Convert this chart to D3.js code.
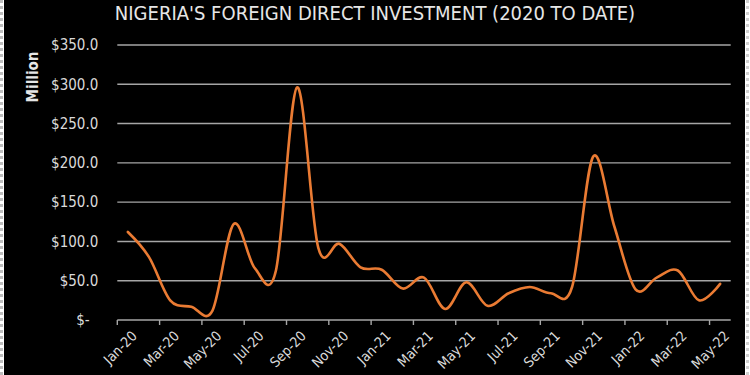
<!DOCTYPE html>
<html>
<head>
<meta charset="utf-8">
<script src="https://cdnjs.cloudflare.com/ajax/libs/d3/7.8.5/d3.min.js"></script>
<style>
  html, body { margin: 0; padding: 0; background: #fff; }
  svg { display: block; }
</style>
</head>
<body>
<svg id="chart" width="750" height="375"></svg>
<script>
var width = 750, height = 375

// months shown on the category axis (Jan-20 .. May-22)
var months = ["Jan-20","Feb-20","Mar-20","Apr-20","May-20","Jun-20","Jul-20","Aug-20","Sep-20","Oct-20","Nov-20","Dec-20",
  "Jan-21","Feb-21","Mar-21","Apr-21","May-21","Jun-21","Jul-21","Aug-21","Sep-21","Oct-21","Nov-21","Dec-21",
  "Jan-22","Feb-22","Mar-22","Apr-22","May-22"]

// FDI, $ million
var fdi = [112, 80, 25, 17, 12, 122, 66, 63, 296, 92, 97, 67,
  64, 40, 54, 14, 48, 18, 34, 42, 34, 42, 208, 119,
  39, 54, 63, 25, 46]

var yTicks = [0, 50, 100, 150, 200, 250, 300, 350]

var title = "NIGERIA'S FOREIGN DIRECT INVESTMENT (2020 TO DATE)"
var yTitle = "Million"

var margin = {left: 117.3, right: 19.3, top: 45, bottom: 55}
var font = '"DejaVu Sans Condensed", "Liberation Sans Narrow", sans-serif'

var svg = d3.select('#chart')

// page frame: dotted edges and black chart area
svg.append('rect').attr('x', 0).attr('y', 0).attr('width', width).attr('height', height).attr('fill', '#fff')
svg.append('line').attr('x1', 1.5).attr('x2', 1.5).attr('y1', 0).attr('y2', height)
  .attr('stroke', '#bdbdbd').attr('stroke-width', 3).attr('stroke-dasharray', '3,3')
svg.append('line').attr('x1', 747.5).attr('x2', 747.5).attr('y1', 0).attr('y2', height)
  .attr('stroke', '#d0d0d0').attr('stroke-width', 3).attr('stroke-dasharray', '3,3')
svg.append('rect').attr('x', 4).attr('y', 0).attr('width', 741).attr('height', height).attr('fill', '#000')

var x = d3.scaleBand()
  .domain(months)
  .range([margin.left, width - margin.right])
  .paddingInner(0).paddingOuter(0)

var y = d3.scaleLinear()
  .domain([0, 350])
  .range([height - margin.bottom, margin.top])

// gridlines
svg.append('g')
  .selectAll('line')
  .data(yTicks.filter(d => d > 0))
  .enter().append('line')
  .attr('x1', x.range()[0])
  .attr('x2', x.range()[1])
  .attr('y1', d => y(d))
  .attr('y2', d => y(d))
  .attr('stroke', '#a6a6a6')
  .attr('stroke-width', 1.4)

// y labels
var yAxis = d3.axisLeft(y)
  .tickValues(yTicks)
  .tickSize(0)
  .tickPadding(19)
  .tickFormat(d => d === 0 ? '$-\u00a0\u00a0' : '$' + d.toFixed(1))

var gy = svg.append('g')
  .attr('transform', 'translate(' + margin.left + ',0)')
  .call(yAxis)
gy.select('.domain').remove()
gy.selectAll('text')
  .attr('fill', '#d9d9d9')
  .style('font-family', font)
  .style('font-size', '15px')

// x axis: ticks on category boundaries every 2 months, labels at the category centre
var baseY = y(0)
svg.append('line')
  .attr('x1', x.range()[0]).attr('x2', x.range()[1])
  .attr('y1', baseY).attr('y2', baseY)
  .attr('stroke', '#a6a6a6').attr('stroke-width', 1.4)

var shown = months.filter((m, i) => i % 2 === 0)

svg.append('g')
  .selectAll('line')
  .data(shown)
  .enter().append('line')
  .attr('x1', d => x(d)).attr('x2', d => x(d))
  .attr('y1', baseY).attr('y2', baseY + 5)
  .attr('stroke', '#a6a6a6').attr('stroke-width', 1.4)

svg.append('g')
  .selectAll('text')
  .data(shown)
  .enter().append('text')
  .text(d => d)
  .attr('transform', d => 'translate(' + (x(d) + x.bandwidth() / 2 + 3) + ',' + (baseY + 10) + ') rotate(-45)')
  .attr('text-anchor', 'end')
  .attr('dy', '0.7em')
  .attr('fill', '#d9d9d9')
  .style('font-family', font)
  .style('font-size', '14px')

// the series (Excel-style smoothed line)
var line = d3.line()
  .x((d, i) => x(months[i]) + x.bandwidth() / 2)
  .y(d => y(d))
  .curve(d3.curveCardinal.tension(0))

svg.append('path')
  .datum(fdi)
  .attr('d', line)
  .attr('fill', 'none')
  .attr('stroke', '#ea7b33')
  .attr('stroke-width', 2.6)
  .attr('stroke-linecap', 'round')

// titles
svg.append('text')
  .text(title)
  .attr('x', 375)
  .attr('y', 20)
  .attr('text-anchor', 'middle')
  .attr('fill', '#e6e6e6')
  .style('font-family', font)
  .style('font-size', '20px')

svg.append('text')
  .text(yTitle)
  .attr('transform', 'translate(38,77) rotate(-90)')
  .attr('text-anchor', 'middle')
  .attr('fill', '#e6e6e6')
  .style('font-family', font)
  .style('font-weight', 'bold')
  .style('font-size', '15px')
</script>
</body>
</html>
